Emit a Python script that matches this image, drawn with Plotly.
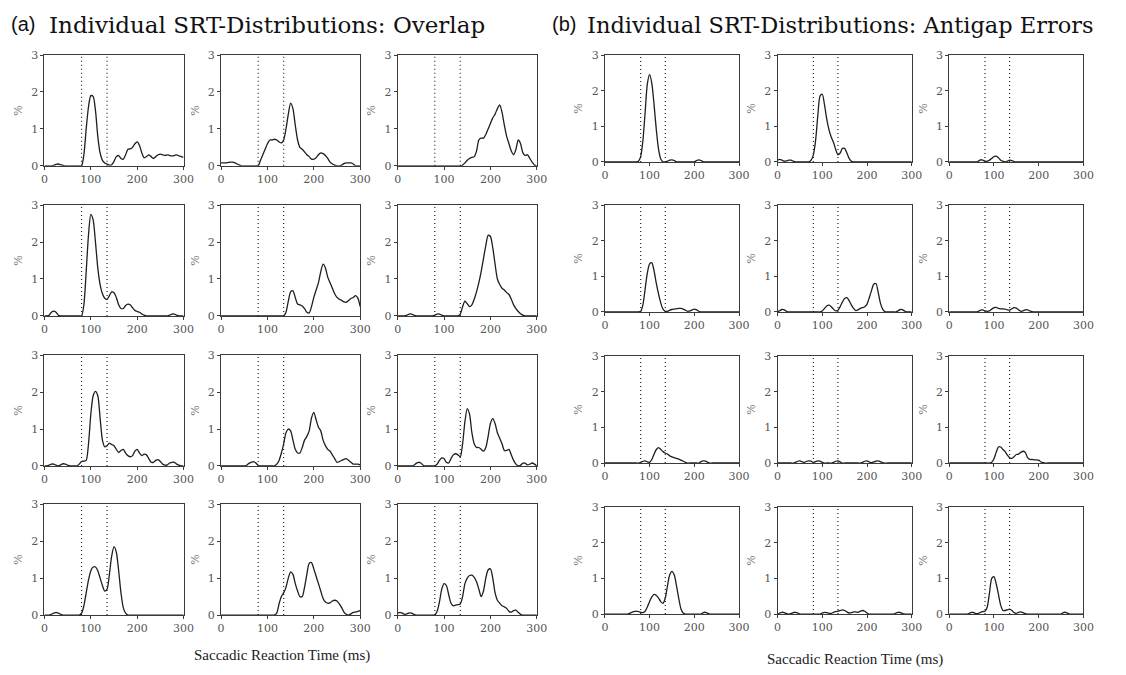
import plotly.graph_objects as go

W, H = 1126, 675

# Saccadic reaction time grid (ms)
SRT = [0, 5, 10, 15, 20, 25, 30, 35, 40, 45,
       50, 55, 60, 65, 70, 75, 80, 85, 90, 95,
       100, 105, 110, 115, 120, 125, 130, 135, 140, 145,
       150, 155, 160, 165, 170, 175, 180, 185, 190, 195,
       200, 205, 210, 215, 220, 225, 230, 235, 240, 245,
       250, 255, 260, 265, 270, 275, 280, 285, 290, 295,
       300]

# (a) Overlap distributions (% per bin)
a11 = [0, 0, 0, 0, 0.01, 0.04, 0.05, 0.03, 0.01, 0,
       0, 0, 0, 0, 0, 0, 0, 0.3, 1.0, 1.6,
       1.9, 1.88, 1.5, 0.8, 0.35, 0.15, 0.08, 0.05, 0.02, 0.03,
       0.12, 0.25, 0.28, 0.2, 0.18, 0.3, 0.45, 0.46, 0.5, 0.6,
       0.65, 0.55, 0.35, 0.22, 0.25, 0.3, 0.25, 0.2, 0.25, 0.3,
       0.32, 0.3, 0.28, 0.3, 0.28, 0.27, 0.28, 0.3, 0.27, 0.25,
       0.23]
a12 = [0.08, 0.08, 0.08, 0.09, 0.1, 0.1, 0.08, 0.05, 0.02, 0,
       0, 0, 0, 0, 0, 0, 0, 0.15, 0.3, 0.45,
       0.6, 0.7, 0.7, 0.72, 0.7, 0.65, 0.62, 0.7, 1.0, 1.4,
       1.7, 1.55, 1.1, 0.7, 0.5, 0.45, 0.38, 0.3, 0.25, 0.18,
       0.18, 0.22, 0.3, 0.35, 0.33, 0.28, 0.2, 0.1, 0.05, 0.02,
       0, 0, 0.02, 0.06, 0.08, 0.08, 0.08, 0.05, 0, 0,
       0]
a13 = [0, 0, 0, 0, 0, 0, 0, 0, 0, 0,
       0, 0, 0, 0, 0, 0, 0, 0, 0, 0,
       0, 0, 0, 0, 0, 0, 0, 0, 0.02, 0.08,
       0.15, 0.2, 0.23, 0.25, 0.4, 0.7, 0.75, 0.75, 0.85, 1.0,
       1.15, 1.3, 1.4, 1.55, 1.65, 1.45, 1.1, 0.8, 0.6, 0.4,
       0.3, 0.45, 0.7, 0.6, 0.35, 0.28, 0.3, 0.2, 0.1, 0.02,
       0]
a21 = [0, 0, 0.02, 0.1, 0.13, 0.1, 0.02, 0, 0, 0,
       0, 0, 0, 0, 0, 0, 0, 0.3, 1.2, 2.2,
       2.75, 2.6, 2.0, 1.3, 0.85, 0.6, 0.48, 0.45, 0.55, 0.65,
       0.63, 0.5, 0.3, 0.2, 0.2, 0.28, 0.32, 0.3, 0.22, 0.15,
       0.12, 0.1, 0.05, 0.02, 0, 0, 0, 0, 0, 0,
       0, 0, 0, 0, 0.02, 0.05, 0.05, 0.02, 0, 0,
       0]
a22 = [0, 0, 0, 0, 0, 0, 0, 0, 0, 0,
       0, 0, 0, 0, 0, 0, 0, 0, 0, 0,
       0, 0, 0, 0, 0, 0, 0, 0, 0.1, 0.4,
       0.65, 0.68, 0.5, 0.32, 0.3, 0.27, 0.2, 0.1, 0.08, 0.25,
       0.5, 0.7, 0.9, 1.2, 1.4, 1.3, 1.05, 0.9, 0.75, 0.6,
       0.5, 0.45, 0.42, 0.38, 0.37, 0.42, 0.47, 0.5, 0.55, 0.48,
       0.25]
a23 = [0, 0, 0, 0, 0.02, 0.05, 0.05, 0.02, 0, 0,
       0, 0, 0, 0, 0, 0, 0.02, 0.05, 0.05, 0.02,
       0, 0, 0, 0, 0, 0, 0, 0.05, 0.25, 0.4,
       0.33, 0.25, 0.3, 0.45, 0.65, 0.9, 1.2, 1.55, 1.9, 2.18,
       2.15, 1.85, 1.4, 1.0, 0.85, 0.75, 0.7, 0.63, 0.58, 0.45,
       0.3, 0.2, 0.12, 0.06, 0.02, 0, 0, 0, 0, 0,
       0]
a31 = [0, 0, 0.02, 0.05, 0.05, 0.02, 0, 0.03, 0.06, 0.05,
       0.02, 0, 0, 0, 0, 0.05, 0.12, 0.13, 0.15, 0.6,
       1.4, 1.9, 2.02, 1.9, 1.3, 0.7, 0.52, 0.55, 0.62, 0.58,
       0.55, 0.45, 0.37, 0.42, 0.45, 0.35, 0.28, 0.25, 0.28, 0.4,
       0.45, 0.35, 0.28, 0.32, 0.3, 0.2, 0.1, 0.1, 0.15, 0.17,
       0.12, 0.05, 0.02, 0.03, 0.08, 0.1, 0.1, 0.05, 0.02, 0,
       0]
a32 = [0, 0, 0, 0, 0, 0, 0, 0, 0, 0,
       0, 0.02, 0.07, 0.1, 0.12, 0.08, 0.02, 0, 0, 0,
       0, 0, 0, 0, 0.05, 0.15, 0.35, 0.6, 0.9, 1.0,
       0.95, 0.7, 0.45, 0.35, 0.35, 0.5, 0.7, 0.8, 0.95, 1.3,
       1.45, 1.25, 1.05, 0.95, 0.7, 0.55, 0.45, 0.4, 0.3, 0.2,
       0.1, 0.12, 0.15, 0.18, 0.2, 0.15, 0.1, 0.05, 0.05, 0.05,
       0.03]
a33 = [0, 0, 0, 0, 0, 0, 0, 0.02, 0.07, 0.1,
       0.08, 0.02, 0, 0, 0, 0, 0, 0.05, 0.15, 0.22,
       0.2, 0.1, 0.08, 0.2, 0.3, 0.33, 0.3, 0.25, 0.6, 1.2,
       1.55, 1.4, 0.9, 0.6, 0.5, 0.5, 0.45, 0.4, 0.5, 0.8,
       1.15, 1.28, 1.15, 0.9, 0.75, 0.6, 0.42, 0.42, 0.45, 0.3,
       0.15, 0.05, 0, 0.02, 0.08, 0.07, 0.03, 0.05, 0.08, 0.05,
       0]
a41 = [0, 0, 0, 0.02, 0.05, 0.07, 0.05, 0.02, 0, 0,
       0, 0, 0, 0, 0, 0, 0.05, 0.25, 0.6, 0.95,
       1.2, 1.3, 1.3, 1.2, 1.0, 0.8, 0.65, 0.7, 1.1, 1.6,
       1.85, 1.7, 1.2, 0.6, 0.2, 0.05, 0, 0, 0, 0,
       0, 0, 0, 0, 0, 0, 0, 0, 0, 0,
       0, 0, 0, 0, 0, 0, 0, 0, 0, 0,
       0]
a42 = [0, 0, 0, 0, 0, 0, 0, 0, 0, 0,
       0, 0, 0, 0, 0, 0, 0, 0, 0, 0,
       0, 0, 0, 0, 0.05, 0.3, 0.5, 0.6, 0.75, 1.0,
       1.17, 1.1, 0.85, 0.65, 0.5, 0.5, 0.75, 1.1, 1.4, 1.42,
       1.25, 1.05, 0.85, 0.65, 0.45, 0.35, 0.32, 0.33, 0.38, 0.4,
       0.38, 0.3, 0.2, 0.08, 0.02, 0, 0.03, 0.07, 0.08, 0.1,
       0.12]
a43 = [0.05, 0.07, 0.05, 0.02, 0.03, 0.06, 0.05, 0.02, 0, 0,
       0, 0, 0, 0, 0, 0, 0, 0.1, 0.35, 0.7,
       0.85, 0.8, 0.55, 0.32, 0.25, 0.27, 0.28, 0.3, 0.5, 0.85,
       1.0, 1.07, 1.08, 1.02, 0.9, 0.7, 0.5, 0.65, 1.0, 1.22,
       1.25, 1.0, 0.6, 0.4, 0.32, 0.25, 0.22, 0.18, 0.1, 0.08,
       0.12, 0.13, 0.07, 0.02, 0, 0, 0, 0, 0, 0,
       0]

# (b) Antigap error distributions (% per bin)
b11 = [0, 0, 0, 0, 0, 0, 0, 0, 0, 0,
       0, 0, 0, 0, 0, 0.02, 0.15, 0.6, 1.4, 2.2,
       2.45, 2.2, 1.6, 0.9, 0.35, 0.08, 0, 0, 0.02, 0.05,
       0.06, 0.04, 0, 0, 0, 0, 0, 0, 0, 0,
       0, 0.04, 0.06, 0.04, 0, 0, 0, 0, 0, 0,
       0, 0, 0, 0, 0, 0, 0, 0, 0, 0,
       0]
b12 = [0.05, 0.07, 0.05, 0.02, 0.03, 0.05, 0.05, 0.02, 0, 0,
       0, 0, 0, 0, 0, 0.05, 0.2, 0.6, 1.3, 1.85,
       1.9, 1.6, 1.2, 0.9, 0.7, 0.55, 0.35, 0.2, 0.25, 0.38,
       0.38, 0.25, 0.1, 0.02, 0, 0, 0, 0, 0, 0,
       0, 0, 0, 0, 0, 0, 0, 0, 0, 0,
       0, 0, 0, 0, 0, 0, 0, 0, 0, 0,
       0]
b13 = [0, 0, 0, 0, 0, 0, 0, 0, 0, 0,
       0, 0, 0, 0.02, 0.06, 0.05, 0.02, 0.02, 0.05, 0.1,
       0.15, 0.16, 0.12, 0.05, 0.02, 0, 0.02, 0.05, 0.04, 0.01,
       0, 0, 0, 0, 0, 0, 0, 0, 0, 0,
       0, 0, 0, 0, 0, 0, 0, 0, 0, 0,
       0, 0, 0, 0, 0, 0, 0, 0, 0, 0,
       0]
b21 = [0, 0, 0, 0, 0, 0, 0, 0, 0, 0,
       0, 0, 0, 0, 0, 0, 0.02, 0.2, 0.65, 1.1,
       1.35, 1.38, 1.15, 0.8, 0.5, 0.25, 0.08, 0.02, 0.02, 0.05,
       0.07, 0.08, 0.09, 0.1, 0.1, 0.08, 0.05, 0.02, 0.03, 0.06,
       0.08, 0.06, 0.02, 0, 0, 0, 0, 0, 0, 0,
       0, 0, 0, 0, 0, 0, 0, 0, 0, 0,
       0]
b22 = [0, 0.04, 0.07, 0.06, 0.02, 0, 0, 0, 0, 0,
       0, 0, 0, 0, 0, 0, 0, 0, 0, 0,
       0.03, 0.1, 0.17, 0.19, 0.15, 0.08, 0.03, 0.05, 0.15, 0.28,
       0.38, 0.4, 0.32, 0.2, 0.1, 0.04, 0.06, 0.1, 0.12, 0.15,
       0.22, 0.4, 0.6, 0.78, 0.8, 0.55, 0.25, 0.08, 0.01, 0,
       0, 0, 0, 0, 0.04, 0.07, 0.06, 0.02, 0, 0,
       0]
b23 = [0, 0, 0, 0, 0, 0, 0, 0, 0, 0,
       0, 0, 0, 0.02, 0.05, 0.06, 0.03, 0.02, 0.03, 0.08,
       0.12, 0.13, 0.1, 0.09, 0.09, 0.08, 0.06, 0.05, 0.09, 0.12,
       0.11, 0.06, 0.02, 0.03, 0.06, 0.06, 0.03, 0.01, 0, 0,
       0, 0, 0, 0, 0, 0, 0, 0, 0, 0,
       0, 0, 0, 0, 0, 0, 0, 0, 0, 0,
       0]
b31 = [0, 0, 0, 0, 0, 0, 0, 0, 0, 0,
       0, 0, 0, 0, 0, 0, 0.02, 0.05, 0.06, 0.03,
       0.02, 0.1, 0.25, 0.38, 0.43, 0.38, 0.32, 0.28, 0.25, 0.2,
       0.17, 0.15, 0.13, 0.11, 0.08, 0.05, 0.02, 0, 0, 0,
       0, 0, 0, 0.04, 0.06, 0.05, 0.02, 0, 0, 0,
       0, 0, 0, 0, 0, 0, 0, 0, 0, 0,
       0]
b32 = [0, 0, 0, 0, 0, 0, 0, 0, 0.02, 0.05,
       0.06, 0.03, 0.02, 0.05, 0.06, 0.05, 0.02, 0.04, 0.06, 0.05,
       0.02, 0, 0, 0, 0, 0.02, 0.05, 0.06, 0.03, 0,
       0, 0, 0, 0, 0, 0, 0, 0, 0.02, 0.05,
       0.06, 0.03, 0.01, 0.03, 0.05, 0.06, 0.04, 0.01, 0, 0,
       0, 0, 0, 0, 0, 0, 0, 0, 0, 0,
       0]
b33 = [0, 0, 0, 0, 0, 0, 0, 0, 0, 0,
       0, 0, 0, 0, 0, 0, 0, 0, 0, 0.02,
       0.12, 0.3, 0.45, 0.45, 0.38, 0.32, 0.22, 0.15, 0.13, 0.18,
       0.24, 0.25, 0.3, 0.33, 0.3, 0.15, 0.1, 0.1, 0.09, 0.09,
       0.08, 0.03, 0.01, 0, 0, 0, 0, 0, 0, 0,
       0, 0, 0, 0, 0, 0, 0, 0, 0, 0,
       0]
b41 = [0, 0, 0, 0, 0, 0, 0, 0, 0, 0,
       0, 0.02, 0.05, 0.07, 0.08, 0.07, 0.05, 0.04, 0.08, 0.2,
       0.35, 0.48, 0.55, 0.52, 0.45, 0.35, 0.3, 0.45, 0.8, 1.1,
       1.2, 1.1, 0.8, 0.45, 0.15, 0.03, 0, 0, 0, 0,
       0, 0, 0, 0, 0.04, 0.05, 0.02, 0, 0, 0,
       0, 0, 0, 0, 0, 0, 0, 0, 0, 0,
       0]
b42 = [0, 0.03, 0.05, 0.04, 0.01, 0, 0.01, 0.04, 0.05, 0.03,
       0, 0, 0, 0, 0, 0, 0, 0, 0, 0,
       0.03, 0.05, 0.04, 0.02, 0.02, 0.05, 0.07, 0.08, 0.1, 0.12,
       0.1, 0.06, 0.03, 0.04, 0.06, 0.06, 0.05, 0.08, 0.1, 0.08,
       0.03, 0, 0, 0, 0, 0, 0, 0, 0, 0,
       0, 0, 0, 0.03, 0.05, 0.04, 0.01, 0, 0, 0,
       0]
b43 = [0, 0, 0, 0, 0, 0, 0, 0, 0, 0.02,
       0.05, 0.04, 0.01, 0.02, 0.05, 0.07, 0.08, 0.2, 0.6, 1.0,
       1.05, 0.85, 0.55, 0.25, 0.1, 0.1, 0.12, 0.14, 0.1, 0.04,
       0.02, 0.05, 0.06, 0.04, 0.01, 0, 0, 0, 0, 0,
       0, 0, 0, 0, 0, 0, 0, 0, 0, 0,
       0, 0.04, 0.05, 0.02, 0, 0, 0, 0, 0, 0,
       0]

X_TICKS = [0, 100, 200, 300]
Y_TICKS = [0, 1, 2, 3]
GAP_LINES = [80, 135]

overlap_rows = [[a11, a12, a13], [a21, a22, a23], [a31, a32, a33], [a41, a42, a43]]
antigap_rows = [[b11, b12, b13], [b21, b22, b23], [b31, b32, b33], [b41, b42, b43]]

# panel geometry in pixels
A_LEFT = [41, 220, 399]
A_W = 141
A_TOP = [50, 203, 356, 508]
A_H = 113
B_LEFT = [609, 784, 958]
B_W = 136
B_TOP = [50, 203, 357, 511]
B_H = 109

SERIF = "DejaVu Serif"
fig = go.Figure()
layout = {}
shapes = []
n = 0


def add_panel(ys, left, w, top, h):
    global n
    n += 1
    sfx = "" if n == 1 else str(n)
    fig.add_trace(go.Scatter(
        x=SRT, y=ys, mode="lines",
        line=dict(color="#1e1e1e", width=1.3, shape="spline", smoothing=0.7),
        xaxis="x" + sfx, yaxis="y" + sfx, showlegend=False, hoverinfo="skip"))
    layout["xaxis" + sfx] = dict(
        domain=[left / W, (left + w) / W], anchor="y" + sfx,
        range=[0, 300], tickvals=X_TICKS, showgrid=False, zeroline=False,
        showline=True, mirror=True, linecolor="#3a3a3a", linewidth=1,
        ticks="outside", ticklen=3, tickcolor="#3a3a3a",
        tickfont=dict(family=SERIF, size=11, color="#555"))
    layout["yaxis" + sfx] = dict(
        domain=[1 - (top + h) / H, 1 - top / H], anchor="x" + sfx,
        range=[0, 3], tickvals=Y_TICKS, showgrid=False, zeroline=False,
        showline=True, mirror=True, linecolor="#3a3a3a", linewidth=1,
        ticks="outside", ticklen=3, tickcolor="#3a3a3a",
        tickfont=dict(family=SERIF, size=11, color="#555"),
        title=dict(text="%", font=dict(family=SERIF, size=11, color="#777"), standoff=6))
    for g in GAP_LINES:
        shapes.append(dict(type="line", xref="x" + sfx, yref="y" + sfx + " domain",
                           x0=g, x1=g, y0=0, y1=1,
                           line=dict(color="#222", width=1.2, dash="1px,3px")))


for r, row in enumerate(overlap_rows):
    for c, ys in enumerate(row):
        add_panel(ys, A_LEFT[c], A_W, A_TOP[r], A_H)
for r, row in enumerate(antigap_rows):
    for c, ys in enumerate(row):
        add_panel(ys, B_LEFT[c], B_W, B_TOP[r], B_H)

annotations = [
    dict(text="(a)", x=5 / W, y=1 - 18 / H, xref="paper", yref="paper",
         xanchor="left", yanchor="middle", showarrow=False,
         font=dict(family="Liberation Sans", size=20, color="#111")),
    dict(text="Individual SRT-Distributions: Overlap", x=44 / W, y=1 - 19 / H,
         xref="paper", yref="paper", xanchor="left", yanchor="middle", showarrow=False,
         font=dict(family=SERIF, size=23, color="#111")),
    dict(text="(b)", x=553 / W, y=1 - 18 / H, xref="paper", yref="paper",
         xanchor="left", yanchor="middle", showarrow=False,
         font=dict(family="Liberation Sans", size=20, color="#111")),
    dict(text="Individual SRT-Distributions: Antigap Errors", x=589 / W, y=1 - 19 / H,
         xref="paper", yref="paper", xanchor="left", yanchor="middle", showarrow=False,
         font=dict(family=SERIF, size=22.5, color="#111")),
    dict(text="Saccadic Reaction Time (ms)", x=282 / W, y=1 - 662 / H,
         xref="paper", yref="paper", xanchor="center", yanchor="middle", showarrow=False,
         font=dict(family="Liberation Serif", size=15, color="#222")),
    dict(text="Saccadic Reaction Time (ms)", x=862 / W, y=1 - 666 / H,
         xref="paper", yref="paper", xanchor="center", yanchor="middle", showarrow=False,
         font=dict(family="Liberation Serif", size=15, color="#222")),
]

fig.update_layout(
    width=W, height=H, margin=dict(l=0, r=0, t=0, b=0),
    paper_bgcolor="white", plot_bgcolor="white",
    shapes=shapes, annotations=annotations, **layout)

fig.write_html("out.html")
